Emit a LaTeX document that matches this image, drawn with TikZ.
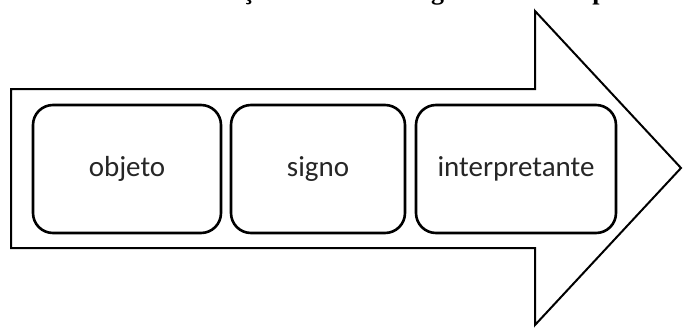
\documentclass[tikz,border=0pt]{standalone}
\usepackage{fontspec}
\setmainfont{Carlito}
\newfontfamily\titlefont{Liberation Serif}
\begin{document}
\begin{tikzpicture}[x=1pt,y=-1pt,
  stage/.style={draw=black, line width=2.6pt, rounded corners=20pt,
    minimum width=#1, minimum height=128pt, inner sep=0pt,
    font=\fontsize{29}{34}\selectfont, text=black!85},
  stage/.default=186pt,
  bigarrow/.style={draw=black, line width=2pt, fill=white, line join=miter}]
  \clip (0,0) rectangle (683,327);
  \fill[white] (0,0) rectangle (683,327);
  % title line, mostly above the page edge
  \node[anchor=base west, inner sep=0pt, font=\titlefont\bfseries\fontsize{26}{30}\selectfont]
    (title) at (192,-1) {Relação triádica do signo e seu interpretante};
  % the large arrow
  \draw[bigarrow] (11,89) -- (535,89) -- (535,11) -- (681,168)
    -- (535,325) -- (535,248) -- (11,248) -- cycle;
  % the three stages
  \node[stage=188pt] (obj) at (127,169) {objeto};
  \node[stage=174pt] (sig) at (318,169) {signo};
  \node[stage=200pt] (int) at (516,169) {interpretante};
\end{tikzpicture}
\end{document}
